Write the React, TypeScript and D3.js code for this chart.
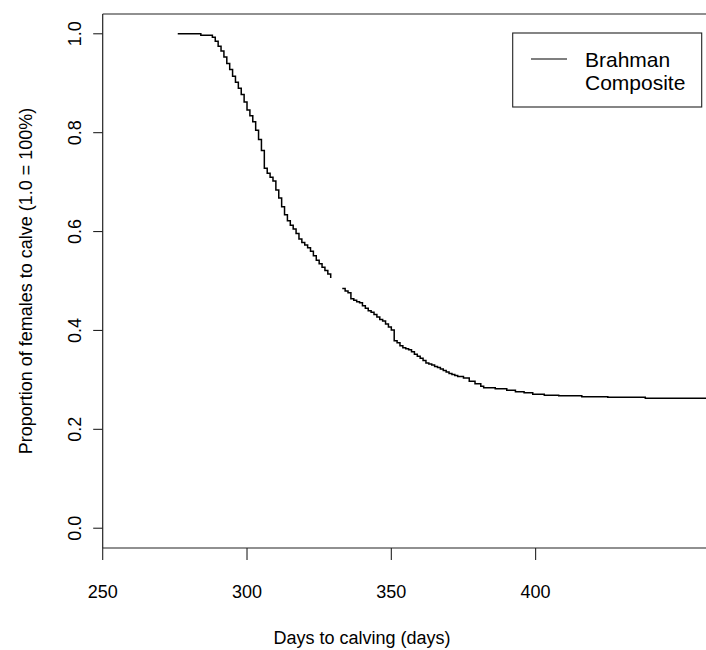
import React from "react";
import * as d3 from "d3";

// ---- data ----
const brahmanDays = [
  276, 284, 288, 289, 290, 291, 292, 293, 294, 295, 296, 297, 298, 299, 300,
  301, 302, 303, 304, 305, 306, 307, 308, 309, 310, 311, 312, 313, 314, 315,
  316, 317, 318, 319, 320, 321, 322, 323, 324, 325, 326, 327, 328, 329, 330,
  331, 332, 333, 334, 335, 336, 337, 338, 339, 340, 341, 342, 343, 344, 345,
  346, 347, 348, 349, 350, 351, 352, 353, 354, 355, 356, 357, 358, 359, 360,
  361, 362, 363, 364, 365, 366, 367, 368, 369, 370, 371, 372, 373, 375, 377,
  379, 381, 382, 386, 390, 393, 396, 399, 403, 408, 416, 425, 438, 460,
];
const brahmanProp = [
  1.0, 0.997, 0.993, 0.985, 0.975, 0.965, 0.953, 0.94, 0.928, 0.914, 0.902, 0.89, 0.877, 0.862, 0.846,
  0.834, 0.822, 0.805, 0.786, 0.764, 0.728, 0.718, 0.71, 0.702, 0.684, 0.668, 0.65, 0.634, 0.622, 0.613,
  0.605, 0.596, 0.585, 0.578, 0.573, 0.567, 0.56, 0.551, 0.542, 0.535, 0.528, 0.521, 0.514, 0.506, 0.5,
  0.494, 0.488, 0.485, 0.48, 0.476, 0.464, 0.461, 0.458, 0.456, 0.45, 0.445, 0.44, 0.437, 0.432, 0.427,
  0.422, 0.419, 0.413, 0.407, 0.401, 0.379, 0.375, 0.369, 0.365, 0.363, 0.361, 0.357, 0.352, 0.348, 0.344,
  0.339, 0.334, 0.332, 0.33, 0.327, 0.325, 0.322, 0.319, 0.316, 0.313, 0.311, 0.309, 0.307, 0.304, 0.297,
  0.292, 0.287, 0.284, 0.282, 0.279, 0.276, 0.274, 0.271, 0.269, 0.268, 0.266, 0.265, 0.263, 0.263,
];
// days where the printed line is broken
const gapDays = [330, 331, 332];

const xTicks = [250, 300, 350, 400];
const yTicks = [0.0, 0.2, 0.4, 0.6, 0.8, 1.0];
const legendLabels = ["Brahman", "Composite"];
const xTitle = "Days to calving (days)";
const yTitle = "Proportion of females to calve (1.0 = 100%)";

const W = 706;
const H = 650;
const FONT = "'Liberation Sans', Arial, Helvetica, sans-serif";

export default function App() {
  const left = 102.7;
  const right = 708.8;
  const top = 14;
  const bottom = 548;

  const x = d3.scaleLinear().domain([250, 460]).range([left, right]);
  const y = d3.scaleLinear().domain([-0.04, 1.04]).range([bottom, top]);

  const pts = brahmanDays.map((d, i) => ({ d, p: brahmanProp[i] }));
  const line = d3
    .line<{ d: number; p: number }>()
    .defined((v) => !gapDays.includes(v.d))
    .x((v) => x(v.d))
    .y((v) => y(v.p))
    .curve(d3.curveStepAfter);

  return (
    <svg
      width={W}
      height={H}
      style={{ position: "absolute", left: 0, top: 0, background: "#fff" }}
      fontFamily={FONT}
    >
      <rect x={0} y={0} width={W} height={H} fill="#fff" />
      {/* frame */}
      <line x1={left} x2={right} y1={top} y2={top} stroke="#222" strokeWidth={1.2} />
      <line x1={left} x2={left} y1={top} y2={bottom} stroke="#222" strokeWidth={1.2} />
      <line x1={left} x2={right} y1={bottom} y2={bottom} stroke="#222" strokeWidth={1.2} />

      {/* x axis */}
      {xTicks.map((t) => (
        <g key={"x" + t}>
          <line x1={x(t)} x2={x(t)} y1={bottom} y2={bottom + 12} stroke="#222" strokeWidth={1.1} />
          <text x={x(t)} y={598} fontSize={18} textAnchor="middle" fill="#000">
            {t}
          </text>
        </g>
      ))}
      <text x={362} y={644} fontSize={18} textAnchor="middle" fill="#000">
        {xTitle}
      </text>

      {/* y axis */}
      {yTicks.map((t) => (
        <g key={"y" + t}>
          <line x1={left - 9.5} x2={left} y1={y(t)} y2={y(t)} stroke="#222" strokeWidth={1.1} />
          <text
            transform={`translate(81,${y(t)}) rotate(-90)`}
            fontSize={18}
            textAnchor="middle"
            fill="#000"
          >
            {t.toFixed(1)}
          </text>
        </g>
      ))}
      <text
        transform={`translate(32,${(top + bottom) / 2}) rotate(-90)`}
        fontSize={18}
        textAnchor="middle"
        fill="#000"
      >
        {yTitle}
      </text>

      {/* curve */}
      <path d={line(pts) || ""} fill="none" stroke="#000" strokeWidth={1.5} />

      {/* legend */}
      <rect x={512.7} y={33} width={189} height={74} fill="#fff" stroke="#222" strokeWidth={1.1} />
      <line x1={531} x2={567} y1={59} y2={59} stroke="#000" strokeWidth={1.1} />
      <text x={585} y={67} fontSize={21} fill="#000">
        {legendLabels[0]}
      </text>
      <text x={585} y={90} fontSize={21} fill="#000">
        {legendLabels[1]}
      </text>
    </svg>
  );
}
